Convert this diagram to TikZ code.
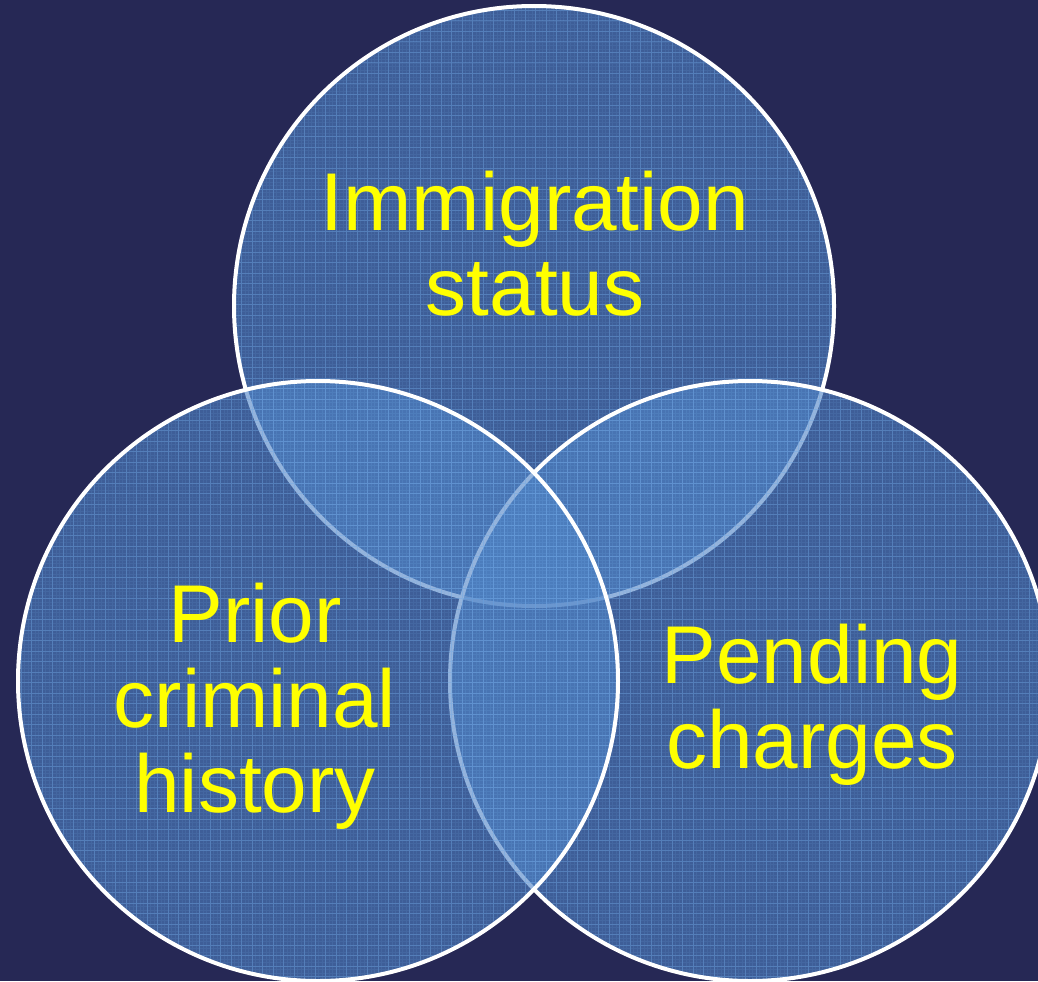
\documentclass[tikz,border=0pt]{standalone}
\usepackage{fontspec}
\setmainfont{Liberation Sans}
\definecolor{bgnavy}{RGB}{38,40,85}
\definecolor{discblue}{RGB}{79,131,197}
\definecolor{gridblue}{RGB}{115,170,230}
\definecolor{labelyellow}{RGB}{255,255,0}
\begin{document}
\begin{tikzpicture}[x=0.75pt,y=-0.75pt,
  lbl/.style={text=labelyellow, font=\fontsize{61.5}{64}\selectfont, anchor=base, inner sep=0pt},
  disc/.style={fill=discblue, fill opacity=0.6},
  gridlines/.style={draw=gridblue, draw opacity=0.35, line width=0.75pt, step=7.875pt},
  finegrid/.style={draw=gridblue, draw opacity=0.12, line width=0.5pt, step=2.625pt},
  rim/.style={draw=white, line width=3pt}]
% page and background
\fill[bgnavy] (0,0) rectangle (1038,981);
\useasboundingbox (0,0) rectangle (1038,981);

% circle centres
\coordinate (ctop) at (534,306);
\coordinate (cright) at (750,681);
\coordinate (cleft) at (318,681);

% each disc: translucent fill, blueprint grid texture, white rim
\foreach \c in {ctop,cright,cleft}{
  \fill[disc] (\c) circle[radius=225pt];
  \begin{scope}
    \clip (\c) circle[radius=225pt];
    \draw[finegrid] (0,981) grid (1038,0);
    \draw[gridlines] (0,981) grid (1038,0);
  \end{scope}
  \draw[rim] (\c) circle[radius=225pt];
}

% labels
\node[lbl] (imm1) at (535,230) {Immigration};
\node[lbl] (imm2) at (535,315) {status};
\node[lbl] (pri1) at (255,642) {Prior};
\node[lbl] (pri2) at (255,727) {criminal};
\node[lbl] (pri3) at (255,812) {history};
\node[lbl] (pen1) at (812,683) {Pending};
\node[lbl] (pen2) at (812,768) {charges};
\end{tikzpicture}
\end{document}
